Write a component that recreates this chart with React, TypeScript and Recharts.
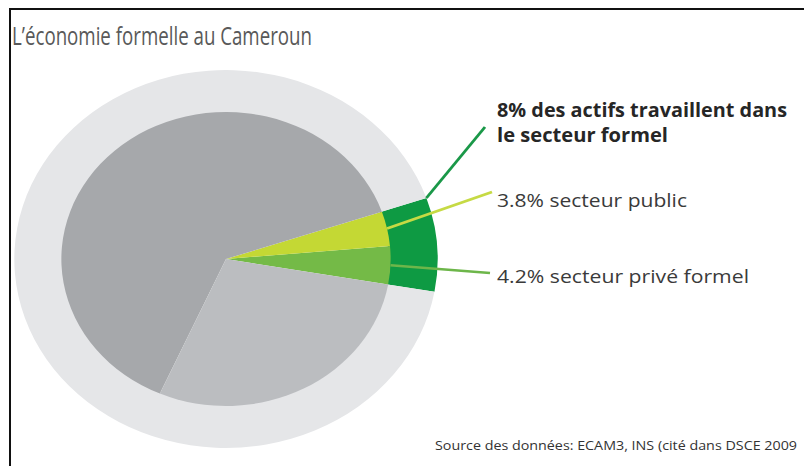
import { PieChart, Pie, Cell } from 'recharts';

// inner pie: formal sectors + the rest of the workforce (unlabelled grey slices)
const sectors = ['Secteur privé formel', 'Secteur public', 'Autres actifs (1)', 'Autres actifs (2)'];
const sectorShares = [4.2, 3.8, 63.2, 28.8];
const sectorColors = ['#74BA47', '#C4D834', '#A6A8AB', '#BBBDC0'];

// outer ring: formal sector as a whole vs everything else
const groups = ['Secteur formel', 'Reste'];
const groupShares = [8, 92];
const groupColors = ['#0E9A43', '#E5E6E8'];

const title = 'L\u2019économie formelle au Cameroun';
const formelLabel = ['8% des actifs travaillent dans', 'le secteur formel'];
const publicLabel = '3.8% secteur public';
const priveLabel = '4.2% secteur privé formel';
const sourceText = 'Source des données: ECAM3, INS (cité dans DSCE 2009';

const W = 804;
const H = 466;
const CX = 226;
const CY = 259;
const SX = 1.12; // the original pie is slightly stretched horizontally
const START = -10;
const RAD = Math.PI / 180;

const innerData = sectors.map((name, i) => ({ name, value: sectorShares[i] }));
const outerData = groups.map((name, i) => ({ name, value: groupShares[i] }));

// where the leader lines end, in page pixels
const innerEnds: Record<number, [number, number]> = { 0: [490, 273], 1: [492, 192] };
const innerLineColors: Record<number, string> = { 0: '#6DB64A', 1: '#C6DA44' };
const formelEnd: [number, number] = [485, 127];

const toPie = (x: number) => CX + (x - CX) / SX;

const polar = (cx: number, cy: number, r: number, a: number) => ({
  x: cx + r * Math.cos(-a * RAD),
  y: cy + r * Math.sin(-a * RAD),
});

const innerLeader = (p: any) => {
  const end = innerEnds[p.index];
  if (!end) return <g />;
  const s = polar(p.cx, p.cy, p.outerRadius, p.midAngle);
  return (
    <line x1={s.x} y1={s.y} x2={toPie(end[0])} y2={end[1]} stroke={innerLineColors[p.index]} strokeWidth={2.6} />
  );
};

const outerLeader = (p: any) => {
  if (p.index !== 0) return <g />;
  const a = p.endAngle ?? p.midAngle + (p.percent * 360) / 2;
  const s = polar(p.cx, p.cy, p.outerRadius, a);
  return <line x1={s.x} y1={s.y} x2={toPie(formelEnd[0])} y2={formelEnd[1]} stroke="#1A9848" strokeWidth={2.6} />;
};

const font = '"Open Sans", "DejaVu Sans", sans-serif';

export default function App() {
  return (
    <div style={{ position: 'absolute', left: 0, top: 0, width: W, height: H, overflow: 'hidden', background: '#fff' }}>
      <div style={{ position: 'absolute', left: 0, top: 0, transform: `scaleX(${SX})`, transformOrigin: `${CX}px ${CY}px` }}>
        <PieChart width={W} height={H} margin={{ top: 0, right: 0, bottom: 0, left: 0 }}>
          <Pie
            data={outerData}
            dataKey="value"
            cx={CX}
            cy={CY}
            innerRadius={145}
            outerRadius={189}
            startAngle={START}
            endAngle={START + 360}
            stroke="none"
            label={outerLeader}
            labelLine={false}
            isAnimationActive={false}
          >
            {outerData.map((d, i) => (
              <Cell key={d.name} fill={groupColors[i]} />
            ))}
          </Pie>
          <Pie
            data={innerData}
            dataKey="value"
            cx={CX}
            cy={CY}
            innerRadius={0}
            outerRadius={147}
            startAngle={START}
            endAngle={START + 360}
            stroke="none"
            label={innerLeader}
            labelLine={false}
            isAnimationActive={false}
          >
            {innerData.map((d, i) => (
              <Cell key={d.name} fill={sectorColors[i]} />
            ))}
          </Pie>
        </PieChart>
      </div>
      <svg width={W} height={H} style={{ position: 'absolute', left: 0, top: 0, pointerEvents: 'none' }}>
        <rect x={9} y={8} width={W - 9} height={2} fill="#111" />
        <rect x={9} y={8} width={2} height={H - 8} fill="#111" />
        <text x={12} y={45} fontFamily={font} fontSize={25} fill="#595959" textLength={300} lengthAdjust="spacingAndGlyphs">
          {title}
        </text>
        <text x={497} y={117} fontFamily={font} fontSize={19} fontWeight={700} fill="#262626" textLength={290} lengthAdjust="spacingAndGlyphs">
          {formelLabel[0]}
        </text>
        <text x={497} y={142} fontFamily={font} fontSize={19} fontWeight={700} fill="#262626" textLength={171} lengthAdjust="spacingAndGlyphs">
          {formelLabel[1]}
        </text>
        <text x={497} y={207} fontFamily={font} fontSize={19} fill="#3a3a3a" textLength={190} lengthAdjust="spacingAndGlyphs">
          {publicLabel}
        </text>
        <text x={497} y={283} fontFamily={font} fontSize={19} fill="#3a3a3a" textLength={252} lengthAdjust="spacingAndGlyphs">
          {priveLabel}
        </text>
        <text x={435} y={450} fontFamily={font} fontSize={13} fill="#333" textLength={362} lengthAdjust="spacingAndGlyphs">
          {sourceText}
        </text>
      </svg>
    </div>
  );
}
